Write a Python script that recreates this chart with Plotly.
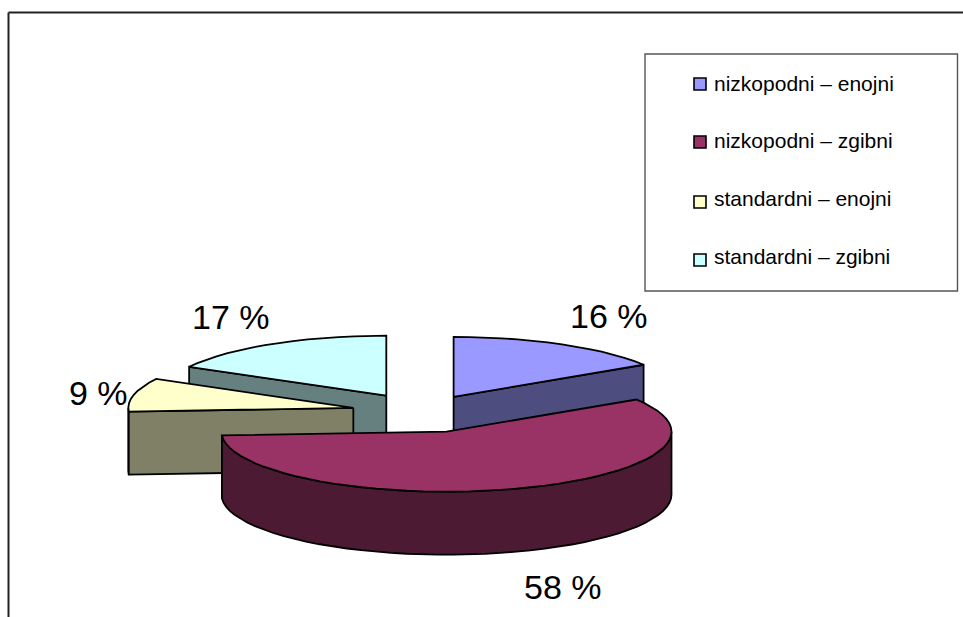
import numpy as np
import plotly.graph_objects as go

# Pie data, clockwise from twelve o'clock
categories = ["nizkopodni – enojni", "nizkopodni – zgibni", "standardni – enojni", "standardni – zgibni"]
values = [16, 58, 9, 17]
top_colors = ["#9999FF", "#993366", "#FFFFCC", "#CCFFFF"]
side_colors = ["#4D4D80", "#4D1A33", "#808066", "#668080"]
explode = [0.287, 0.345, 0.315, 0.316]
draw_order = [3, 2, 0, 1]  # back to front

# Drawing scale of the tilted pie, in page pixels
WIDTH, HEIGHT = 963, 617
CX, CY = 422.5, 412
RX, RY = 225, 60
DEPTH = 63

label_pos = [(609, 316), (563, 587), (98, 393), (231, 317)]
swatch_y = [84, 142, 202, 260]
legend_text_y = [83, 140, 198, 256]


def rim(angle, center):
    """Point on the top rim for a clockwise angle in degrees."""
    a = np.radians(angle)
    return center[0] + RX * np.sin(a), center[1] - RY * np.cos(a)


def arc(start, end, center):
    steps = max(int(abs(end - start) / 4), 2)
    return rim(np.linspace(start, end, steps + 1), center)


def polygon(xs, ys, color):
    return go.Scatter(
        x=list(xs), y=list(ys), mode="lines", fill="toself", fillcolor=color,
        line=dict(color="black", width=1.8), hoverinfo="skip", showlegend=False,
    )


def radial_face(angle, center, color):
    ex, ey = rim(angle, center)
    return polygon(
        [center[0], ex, ex, center[0], center[0]],
        [center[1], ey, ey + DEPTH, center[1] + DEPTH, center[1]],
        color,
    )


def wedge_traces(index, start, end):
    mid = np.radians((start + end) / 2)
    center = (
        CX + explode[index] * RX * np.sin(mid),
        CY - explode[index] * RY * np.cos(mid),
    )
    side = side_colors[index]
    traces = []

    # Outer wall, only where the rim faces the viewer
    lo, hi = max(start, 90), min(end, 270)
    if hi > lo:
        ax, ay = arc(lo, hi, center)
        traces.append(polygon(
            np.r_[ax, ax[::-1], ax[0]],
            np.r_[ay, ay[::-1] + DEPTH, ay[0]],
            side,
        ))

    # Cut faces that turn toward the viewer
    if np.sin(np.radians(start)) < -1e-9:
        traces.append(radial_face(start, center, side))
    if np.sin(np.radians(end)) > 1e-9:
        traces.append(radial_face(end, center, side))

    # Top face
    ax, ay = arc(start, end, center)
    traces.append(polygon(
        np.r_[center[0], ax, center[0]],
        np.r_[center[1], ay, center[1]],
        top_colors[index],
    ))
    return traces


edges = np.r_[0, np.cumsum(values)] * 360 / sum(values)

fig = go.Figure()
for i in draw_order:
    fig.add_traces(wedge_traces(i, edges[i], edges[i + 1]))

# Legend swatches
fig.add_trace(go.Scatter(
    x=[700] * len(categories), y=swatch_y, mode="markers",
    marker=dict(symbol="square", size=12, color=top_colors, line=dict(color="black", width=1.6)),
    hoverinfo="skip", showlegend=False,
))

annotations = [
    dict(x=x, y=y, text=f"{v} %", showarrow=False, xanchor="center", yanchor="middle",
         font=dict(family="Liberation Sans", size=34, color="black"))
    for v, (x, y) in zip(values, label_pos)
]
annotations += [
    dict(x=712, y=y, text=name, showarrow=False, xanchor="left", yanchor="middle",
         font=dict(family="Liberation Sans", size=21, color="black"))
    for name, y in zip(categories, legend_text_y)
]

shapes = [
    dict(type="line", x0=8.5, x1=8.5, y0=12.5, y1=HEIGHT, line=dict(color="#222222", width=2), layer="below"),
    dict(type="line", x0=8.5, x1=WIDTH, y0=12.5, y1=12.5, line=dict(color="#222222", width=2), layer="below"),
    dict(type="rect", x0=645, x1=957.5, y0=54, y1=291, line=dict(color="#555555", width=1.4),
         fillcolor="white", layer="below"),
]

fig.update_layout(
    width=WIDTH, height=HEIGHT,
    margin=dict(l=0, r=0, t=0, b=0),
    paper_bgcolor="white", plot_bgcolor="white",
    xaxis=dict(range=[0, WIDTH], visible=False, fixedrange=True),
    yaxis=dict(range=[HEIGHT, 0], visible=False, fixedrange=True),
    annotations=annotations, shapes=shapes, showlegend=False,
)

fig.write_html("out.html", config={"displayModeBar": False})
